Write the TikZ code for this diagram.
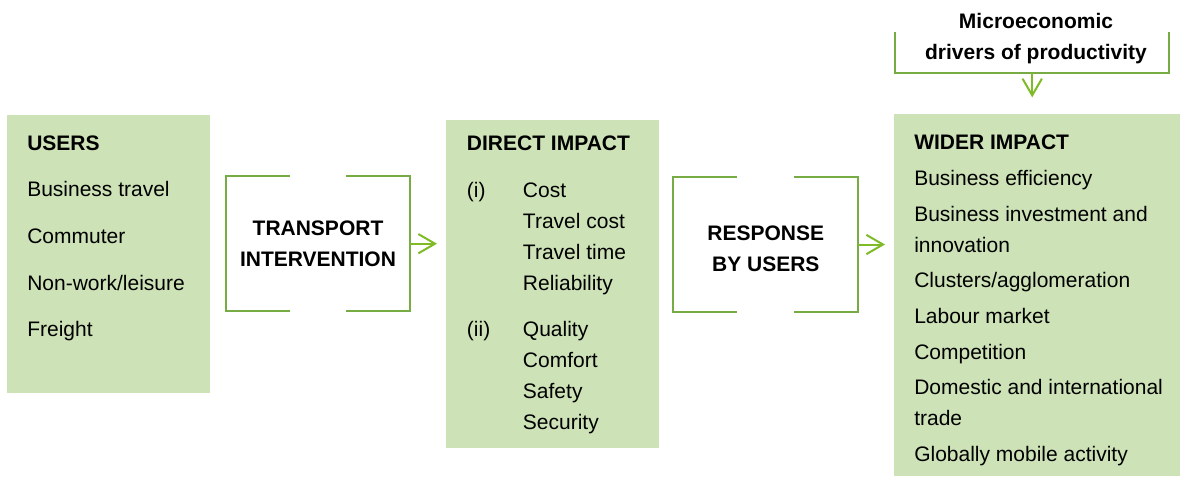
\documentclass[tikz,border=0pt]{standalone}
\usepackage{fontspec}
\setmainfont{Liberation Sans}
\usetikzlibrary{arrows.meta}

\begin{document}
\begin{tikzpicture}[x=0.75pt,y=0.75pt,yscale=-1,xscale=1,
        box/.style={fill={rgb, 255:red, 205; green, 226; blue, 182 }, draw=none, inner sep=0pt, outer sep=0pt, anchor=north west},
        frame/.style={inner sep=0pt, outer sep=0pt, minimum height=101.6pt},
        bracket/.style={draw={rgb, 255:red, 119; green, 171; blue, 67 }, line width=1.5pt},
        flow/.style={draw={rgb, 255:red, 127; green, 186; blue, 39 }, line width=1.5pt, -{Straight Barb[length=12.5pt,width=14.5pt]}},
        txt/.style={anchor=north west, inner sep=0pt, align=left, font=\fontsize{15.75pt}{23.25pt}\selectfont},
        hd/.style={inner sep=0pt, align=center, font=\fontsize{15.75pt}{23.25pt}\selectfont\bfseries}
    ]
        \useasboundingbox (0,0) rectangle (1180,476);
        \node [box, minimum width=152.25pt, minimum height=208.5pt] (users) at (7,115) {};
        \node [box, minimum width=159.75pt, minimum height=246pt] (direct) at (446,120) {};
        \node [box, minimum width=214.5pt, minimum height=271.5pt] (wider) at (894,114) {};
        \node [txt, font=\fontsize{15.75pt}{34.9pt}\selectfont] (userslist) at (27,135.5) {\textbf{USERS}\\Business travel\\Commuter\\Non-work/leisure\\Freight};
        \node [txt] (directlist) at (466.7,135.8) {\textbf{DIRECT IMPACT}\\[11.6pt]\makebox[42pt][l]{(i)}Cost\\\hspace*{42pt}Travel cost\\\hspace*{42pt}Travel time\\\hspace*{42pt}Reliability\\[11.6pt]\makebox[42pt][l]{(ii)}Quality\\\hspace*{42pt}Comfort\\\hspace*{42pt}Safety\\\hspace*{42pt}Security};
        \node [txt] (widerlist) at (914,135) {\textbf{WIDER IMPACT}\\[3.5pt]Business efficiency\\[3.5pt]Business investment and\\innovation\\[3.5pt]Clusters/agglomeration\\[3.5pt]Labour market\\[3.5pt]Competition\\[3.5pt]Domestic and international\\trade\\[3.5pt]Globally mobile activity};
        \node [frame, hd, minimum width=138pt] (transport) at (318,243.7) {TRANSPORT\\INTERVENTION};
        \node [frame, minimum width=139.2pt] (response) at (765.5,244.5) {};
        \node [hd] (responsetext) at (765.8,248.7) {RESPONSE\\BY USERS};
        \node [inner sep=0pt, outer sep=0pt, minimum width=205.7pt, minimum height=30.75pt] (drivers) at (1032.2,52.2) {};
        \node [hd, anchor=north] (driverstext) at (1036,12.7) {Microeconomic\\drivers of productivity};
        \draw [bracket] ([shift={(64,0)}]transport.north west) -- (transport.north west) -- (transport.south west) -- ++(64,0);
        \draw [bracket] ([shift={(-64,0)}]transport.north east) -- (transport.north east) -- (transport.south east) -- ++(-64,0);
        \draw [bracket] ([shift={(64,0)}]response.north west) -- (response.north west) -- (response.south west) -- ++(64,0);
        \draw [bracket] ([shift={(-64,0)}]response.north east) -- (response.north east) -- (response.south east) -- ++(-64,0);
        \draw [bracket] (drivers.north west) -- (drivers.south west) -- (drivers.south east) -- (drivers.north east);
        \draw [flow, shorten >=6.75pt] (transport.east) -- (direct.west |- transport.east);
        \draw [flow, shorten >=6.75pt] (response.east) -- (wider.west |- response.east);
        \draw [flow, shorten >=12.5pt] (drivers.south) -- (drivers.south |- wider.north);
    \end{tikzpicture}
\end{document}
